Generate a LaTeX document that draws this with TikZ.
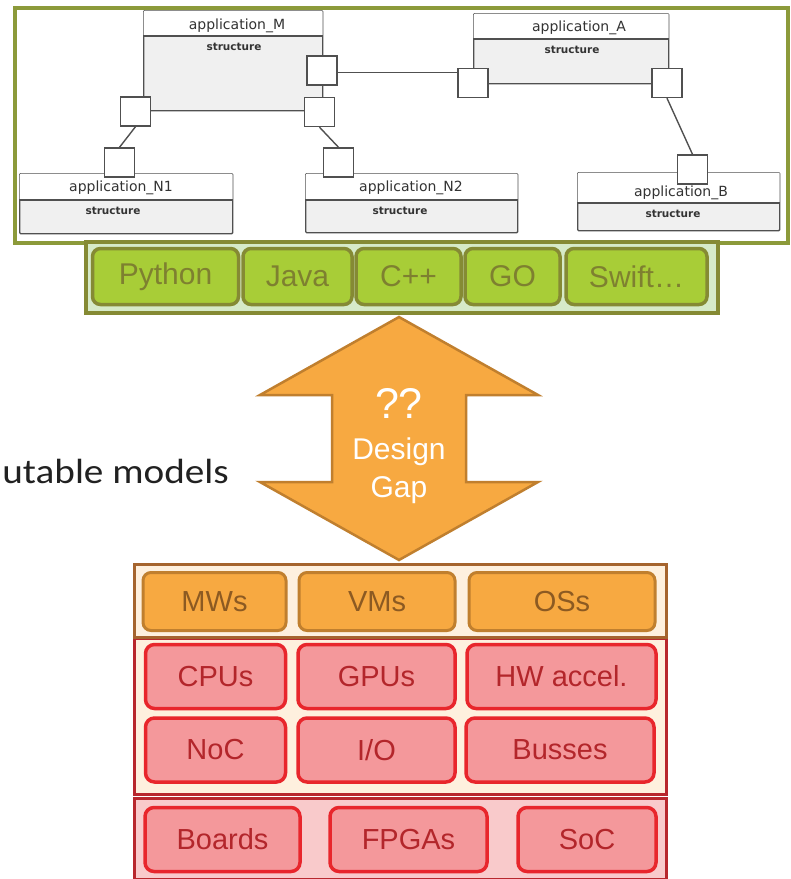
\documentclass[tikz,border=0pt]{standalone}
\usepackage{fontspec}
\setmainfont{Liberation Sans}
\newfontfamily\umlfont{DejaVu Sans}
\newfontfamily\calfont{Carlito}
\usetikzlibrary{calc}
\definecolor{frameolive}{HTML}{8C9A3A}
\definecolor{barolive}{HTML}{858A34}
\definecolor{barbg}{HTML}{D6EAC8}
\definecolor{langfill}{HTML}{A8CD37}
\definecolor{langtext}{HTML}{7E8030}
\definecolor{orfill}{HTML}{F7A941}
\definecolor{orbd}{HTML}{C07F2E}
\definecolor{ortext}{HTML}{8C5A22}
\definecolor{orframe}{HTML}{A5642E}
\definecolor{cream}{HTML}{FEF0DE}
\definecolor{redframe}{HTML}{B8272D}
\definecolor{pinkbg}{HTML}{F9CACB}
\definecolor{hwfill}{HTML}{F4989B}
\definecolor{hwbd}{HTML}{E8262C}
\definecolor{hwtext}{HTML}{B3262B}
\definecolor{umlgray}{HTML}{505050}
\definecolor{umlbody}{HTML}{F0F0F0}
\tikzset{
  umlbox/.style={draw=umlgray, line width=1.4pt, fill=umlbody, rounded corners=1pt, inner sep=0pt, anchor=north west},
  umlport/.style={draw=umlgray, line width=1.4pt, fill=white, inner sep=0pt, minimum width=30, minimum height=29},
  umltitle/.style={font=\umlfont\fontsize{14}{16}\selectfont, text=black!80, inner sep=0pt},
  umlsub/.style={font=\umlfont\bfseries\fontsize{10.5}{12}\selectfont, text=black!80, inner sep=0pt},
  umlwire/.style={draw=umlgray, line width=1.4pt},
  langbtn/.style={draw=barolive, line width=3.5pt, fill=langfill, rounded corners=8pt, text=langtext, font=\fontsize{30}{32}\selectfont, inner sep=0pt, minimum height=56},
  orbtn/.style={draw=orbd, line width=3pt, fill=orfill, rounded corners=8pt, text=ortext, font=\fontsize{29}{31}\selectfont, inner sep=0pt, minimum height=58},
  hwbtn/.style={draw=hwbd, line width=3.5pt, fill=hwfill, rounded corners=9pt, text=hwtext, font=\fontsize{29}{31}\selectfont, inner sep=0pt, minimum height=64},
  layer/.style={line width=3pt, inner sep=0pt, minimum width=532, anchor=north west},
  gaptext/.style={text=white, inner sep=0pt, anchor=base},
}
\begin{document}
\begin{tikzpicture}[x=1pt,y=-1pt]
\useasboundingbox (0,0) rectangle (791,879);
\fill[white] (0,0) rectangle (791,879);

% ---- top frame with UML diagram
\node[draw=frameolive, line width=4pt, fill=white, inner sep=0pt, minimum width=773, minimum height=235, anchor=north west] (top) at (12.5,5.5) {};

% application_M
\node[umlbox, minimum width=179, minimum height=100] (M) at (143,10) {};
\fill[white, rounded corners=1pt] ($(M.north west)+(0.7,0.7)$) rectangle ($(M.north east)+(-0.7,26)$);
\draw[umlgray, line width=1.4pt] ($(M.north west)+(0,26)$) -- ($(M.north east)+(0,26)$);
\node[umltitle] (Mt) at (237,26) {application\_M};
\node[umlsub] (Ms) at (234,47) {structure};

% application_A
\node[umlbox, minimum width=195, minimum height=70] (A) at (473,13) {};
\fill[white, rounded corners=1pt] ($(A.north west)+(0.7,0.7)$) rectangle ($(A.north east)+(-0.7,26)$);
\draw[umlgray, line width=1.4pt] ($(A.north west)+(0,26)$) -- ($(A.north east)+(0,26)$);
\node[umltitle] (At) at (579,28) {application\_A};
\node[umlsub] (As) at (572,50) {structure};

% application_N1
\node[umlbox, minimum width=213, minimum height=60] (N1) at (19,173) {};
\fill[white, rounded corners=1pt] ($(N1.north west)+(0.7,0.7)$) rectangle ($(N1.north east)+(-0.7,27)$);
\draw[umlgray, line width=1.4pt] ($(N1.north west)+(0,27)$) -- ($(N1.north east)+(0,27)$);
\node[umltitle] (N1t) at (121,188) {application\_N1};
\node[umlsub] (N1s) at (113,211) {structure};

% application_N2
\node[umlbox, minimum width=212, minimum height=59] (N2) at (305,173) {};
\fill[white, rounded corners=1pt] ($(N2.north west)+(0.7,0.7)$) rectangle ($(N2.north east)+(-0.7,27)$);
\draw[umlgray, line width=1.4pt] ($(N2.north west)+(0,27)$) -- ($(N2.north east)+(0,27)$);
\node[umltitle] (N2t) at (411,188) {application\_N2};
\node[umlsub] (N2s) at (400,211) {structure};

% application_B
\node[umlbox, minimum width=202, minimum height=58] (B) at (577,172) {};
\fill[white, rounded corners=1pt] ($(B.north west)+(0.7,0.7)$) rectangle ($(B.north east)+(-0.7,31)$);
\draw[umlgray, line width=1.4pt] ($(B.north west)+(0,31)$) -- ($(B.north east)+(0,31)$);
\node[umltitle] (Bt) at (681,193) {application\_B};
\node[umlsub] (Bs) at (673,214) {structure};

% ports
\node[umlport] (Mpl) at (135.5,111.5) {};
\node[umlport] (Mpr1) at (322,70.5) {};
\node[umlport] (Mpr2) at (319.5,112) {};
\node[umlport] (Apl) at (473,83) {};
\node[umlport] (Apr) at (667,83) {};
\node[umlport] (N1p) at (119.5,162.5) {};
\node[umlport] (N2p) at (338.5,162.5) {};
\node[umlport] (Bp) at (692.5,169.5) {};

% wires
\draw[umlwire] (Mpl.south) -- (N1p.north);
\draw[umlwire] (Mpr2.south) -- (N2p.north);
\coordinate (w1) at ($(Mpr1.east)+(0,2)$);
\draw[umlwire] (w1) -- (w1 -| Apl.west);
\draw[umlwire] (Apr.south) -- (Bp.north);

% ---- language bar
\node[draw=barolive, line width=4pt, fill=barbg, inner sep=0pt, minimum width=632, minimum height=71, anchor=north west] (langbar) at (84,240) {};
\node[langbtn, minimum width=146] (py) at (165.5,276.5) {Python};
\node[langbtn, minimum width=109] (java) at (297.5,276.5) {Java};
\node[langbtn, minimum width=105] (cpp) at (408.5,276.5) {C++};
\node[langbtn, minimum width=95] (go) at (512.5,276.5) {GO};
\node[langbtn, minimum width=141] (swift) at (636.5,276.5) {Swift…};

% ---- design gap double arrow
\coordinate (tipT) at (399,317);
\coordinate (tipB) at (399,560);
\draw[draw=orbd, fill=orfill, line width=2.5pt, line join=miter]
  (tipT) -- (538,395) -- (466,395) -- (466,482) -- (538,482) -- (tipB)
  -- (260,482) -- (332,482) -- (332,395) -- (260,395) -- cycle;
\node[gaptext, font=\fontsize{43}{45}\selectfont] (qq) at (399,418) {??};
\node[gaptext, font=\fontsize{30}{32}\selectfont] (design) at (399,459) {Design};
\node[gaptext, font=\fontsize{30}{32}\selectfont] (gap) at (399,497) {Gap};

% cut-off side label
\node[font=\calfont\fontsize{35}{37}\selectfont, text=black!87, inner sep=0pt, anchor=base east] (models) at (229,483) {\scalebox{1.12}[1]{utable models}};

% ---- bottom stack
\node[layer, draw=orframe, fill=cream, minimum height=74] (swl) at (133,563) {};
\node[layer, draw=redframe, fill=cream, minimum height=156] (hwl) at (133,637) {};
\draw[orframe, line width=3pt] (hwl.north west) -- (hwl.north east);
\node[layer, draw=redframe, fill=pinkbg, minimum height=81] (brd) at (133,797) {};

\node[orbtn, minimum width=143] (mw) at (214.5,601.5) {MWs};
\node[orbtn, minimum width=156] (vm) at (377,601.5) {VMs};
\node[orbtn, minimum width=186] (os) at (562,601.5) {OSs};

\node[hwbtn, minimum width=140] (cpu) at (215.5,676.5) {CPUs};
\node[hwbtn, minimum width=157] (gpu) at (376.5,676.5) {GPUs};
\node[hwbtn, minimum width=189] (hwa) at (561.5,676.5) {HW accel.};

\node[hwbtn, minimum width=140] (noc) at (215.5,750) {NoC};
\node[hwbtn, minimum width=157] (io) at (376.5,750) {I/O};
\node[hwbtn, minimum width=188] (bus) at (560,750) {Busses};

\node[hwbtn, minimum width=155] (boards) at (222.5,839.5) {Boards};
\node[hwbtn, minimum width=157] (fpga) at (408.5,839.5) {FPGAs};
\node[hwbtn, minimum width=138] (soc) at (587,839.5) {SoC};
\end{tikzpicture}
\end{document}
